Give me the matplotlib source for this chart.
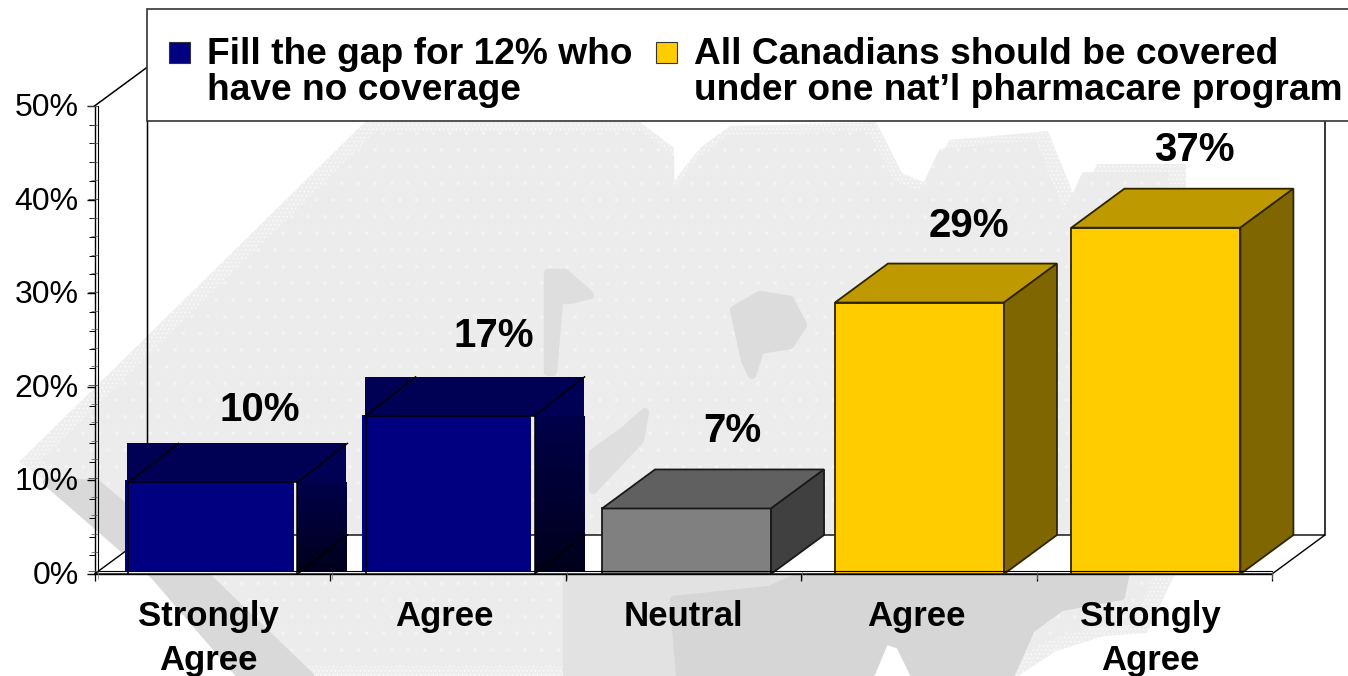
import matplotlib
matplotlib.use("Agg")
import matplotlib.pyplot as plt
import numpy as np
from matplotlib.patches import Polygon, Rectangle
from matplotlib.transforms import ScaledTranslation

plt.rcParams["font.family"] = ["Liberation Sans", "DejaVu Sans"]
plt.rcParams["hatch.linewidth"] = 0.4

categories = ["Strongly\nAgree", "Agree", "Neutral", "Agree", "Strongly\nAgree"]
values = [10, 17, 7, 29, 37]
series_a = "Fill the gap for 12% who\nhave no coverage"
series_b = "All Canadians should be covered\nunder one nat\u2019l pharmacare program"
yticks = [0, 10, 20, 30, 40, 50]
ytick_labels = ["0%", "10%", "20%", "30%", "40%", "50%"]

# front, top, side colours per bar
front = ["#000080", "#000080", "#808080", "#FFCC00", "#FFCC00"]
top = ["#000054", "#000054", "#606060", "#BF9900", "#BF9900"]
side = ["#00002c", "#00002c", "#404040", "#806600", "#806600"]
edge = ["black", "black", "#1a1a1a", "#2e2400", "#2e2400"]

W, H = 1348, 676
PX_X = 235.5  # pixels per category
PX_Y = 9.36  # pixels per percent
depth_x = 53 / PX_X
depth_y = 39 / PX_Y
navy_depth_x = 50 / PX_X
bar_w = 169 / PX_X
bar_shift = [-0.012, -0.005, 0.014, 0.003, 0.007]
label_shift = [-0.015, -0.015, 0.0, -0.01, -0.015]
outline_drop = [2, 1]
label_dx = [50, 47, 46, 49, 38]
label_dy = [70, 79, 77, 77, 78]

fig = plt.figure(figsize=(W / 100, H / 100), dpi=100, facecolor="white")


def px_axes(x0, x1, y_bottom, y_top, **kw):
    return fig.add_axes([x0 / W, 1 - y_bottom / H, (x1 - x0) / W, (y_bottom - y_top) / H], **kw)


# grey logo behind the chart, in pixel coordinates
bg = fig.add_axes([0, 0, 1, 1], zorder=0)
bg.set_xlim(0, W)
bg.set_ylim(H, 0)
bg.axis("off")
light = np.array([(19, 462), (365, 122), (640, 122), (674, 148), (674, 181), (700, 148), (730, 126), (876, 122),
                  (902, 173), (928, 184), (949, 140), (1048, 131), (1065, 173), (1078, 206), (1097, 164),
                  (1186, 164), (1186, 560), (1173, 578), (1147, 633), (1104, 636), (1056, 651), (1018, 676),
                  (915, 676), (900, 645), (885, 640), (870, 676), (241, 676), (155, 576), (47, 482)])
rim = dict(lw=0, joinstyle="round")
bg.add_patch(Polygon(light, fc="#eeeeee", ec="white", hatch="....", **rim))
# flat middle with sparser speckle, the dense dither only shows near the rim
core = (light - [680, 400]) * 0.965 + [680, 400]
bg.add_patch(Polygon(core, fc="#ececec", ec="#f3f3f3", hatch=".", **rim))
for pts, col in [
    ([(47, 482), (97, 484), (206, 576), (310, 676), (241, 676), (155, 576)], "#d9d9d9"),
    ([(567, 574), (800, 574), (770, 590), (674, 600), (680, 676), (567, 676)], "#e2e2e2"),
    ([(770, 590), (800, 576), (1125, 576), (1121, 596), (1061, 607), (1031, 629), (1010, 676),
      (915, 676), (900, 645), (885, 640), (870, 676), (680, 676), (674, 600)], "#d6d6d6"),
    ([(734, 310), (760, 295), (790, 300), (803, 325), (790, 345), (760, 350), (752, 375), (745, 360)], "#dcdcdc"),
    ([(548, 273), (565, 273), (590, 295), (570, 300), (559, 300), (553, 372), (548, 372)], "#dedede"),
    ([(645, 412), (640, 440), (593, 490), (593, 453), (625, 430)], "#dedede"),
]:
    bg.add_patch(Polygon(pts, fc=col, ec=col, lw=6, joinstyle="round"))

ax = px_axes(94.5, 1272, 574, 106, zorder=1)
ax.patch.set_alpha(0)
x = np.arange(5) + 0.5 + np.array(bar_shift)

# white floor and back walls
ax.add_patch(Polygon([(0, 0), (depth_x, depth_y), (5 + depth_x, depth_y), (5, 0)], fc="white", ec="black",
                     lw=1, clip_on=False, zorder=1))
wall = dict(color="black", lw=1.1, clip_on=False, zorder=1.5)
ax.plot([0, depth_x, depth_x], [50, 50 + depth_y, depth_y], **wall)
ax.plot([5 + depth_x, 5 + depth_x], [depth_y, 50 + depth_y], **wall)

ax.bar(x, values, bar_w, color=[c if c != "#000080" else "none" for c in front], ec="none", zorder=3)
for i, v in enumerate(values):
    left, right = x[i] - bar_w / 2, x[i] + bar_w / 2
    if front[i] == "#000080":
        # navy columns: face sits a little off its outline, shaded faces stay square
        nx, ny = 3.5 / PX_X, outline_drop[i] / PX_Y
        floor = 3.4 / PX_Y
        ax.add_patch(Rectangle((left, floor), bar_w, v - floor, fc=front[i], lw=0, zorder=3))
        l2, r2, v2 = left + nx, right + nx, v - ny
        ax.add_patch(Rectangle((l2 - 0.004, v2), bar_w + navy_depth_x, depth_y, fc=top[i], lw=0, zorder=3.2,
                               clip_on=False))
        shade = np.linspace(0, 1, 64)[:, None]
        ax.imshow(shade, extent=(r2, r2 + navy_depth_x, floor, v2), origin="upper", aspect="auto", zorder=3.3,
                  cmap=matplotlib.colors.LinearSegmentedColormap.from_list("s", ["#00004a", "#00001c"]),
                  clip_on=False)
        line = dict(color="black", lw=1.1, zorder=3.5, clip_on=False)
        ax.plot([l2, l2, r2], [0, v2, v2], **line)
        ax.plot([r2, r2], [0, v2], **line)
        ax.plot([l2, l2 + navy_depth_x], [v2, v2 + depth_y], **line)
        ax.plot([r2, r2 + navy_depth_x], [v2, v2 + depth_y], **line)
        ax.plot([r2, r2 + navy_depth_x], [0, depth_y], **line)
    else:
        ax.add_patch(Rectangle((left, 0), bar_w, v, fc=front[i], ec=edge[i], lw=1.3, zorder=3))
        ax.add_patch(Polygon([(left, v), (left + depth_x, v + depth_y), (right + depth_x, v + depth_y), (right, v)],
                             fc=top[i], ec=edge[i], lw=1.3, zorder=3.2, clip_on=False))
        ax.add_patch(Polygon([(right, 0), (right, v), (right + depth_x, v + depth_y), (right + depth_x, depth_y)],
                             fc=side[i], ec=edge[i], lw=1.3, zorder=3.2, clip_on=False))
    ax.annotate(f"{v}%", (x[i], v), xytext=(label_dx[i] * 0.72, label_dy[i] * 0.72), textcoords="offset points",
                ha="center", va="center", fontsize=29, fontweight="bold", zorder=6, annotation_clip=False)

ax.set_xlim(0, 5)
ax.set_ylim(0, 50)
for s in ("top", "right"):
    ax.spines[s].set_visible(False)
ax.spines["left"].set_linewidth(1)
ax.spines["bottom"].set_linewidth(1)
ax.set_yticks(yticks, ytick_labels)
ax.set_yticks(np.arange(0, 51, 2), minor=True)
ax.tick_params(axis="y", which="major", length=6, width=1, labelsize=23, pad=5.5)
ax.tick_params(axis="y", which="minor", length=4, width=0.7)
up = ScaledTranslation(0, 1.5 / 100, fig.dpi_scale_trans)
for t in ax.get_yticklabels():
    t.set_transform(t.get_transform() + up)
ax.set_xticks(np.arange(6), [""] * 6)
ax.tick_params(axis="x", which="major", length=5, width=0.9)
ax.set_xticks(np.arange(5) + 0.5 + np.array(label_shift), categories, minor=True)
ax.tick_params(axis="x", which="minor", length=0, pad=18.5, labelsize=25)
for t in ax.get_xticklabels(minor=True):
    t.set_fontweight("bold")
    t.set_linespacing(1.42)
    t.set_verticalalignment("top")

# second, fainter run of the axis lines just inside the first
inner = px_axes(97.5, 1272, 571, 106, zorder=2)
inner.patch.set_alpha(0)
inner.set_xlim(0, 5)
inner.set_ylim(0, 50)
for s in ("top", "right"):
    inner.spines[s].set_visible(False)
inner.spines["left"].set_linewidth(0.8)
inner.spines["bottom"].set_linewidth(0.8)
inner.set_yticks(yticks, [""] * 6)
inner.set_yticks(np.arange(0, 51, 2), minor=True)
inner.tick_params(axis="y", which="major", length=7, width=0.6, color="#444444")
inner.tick_params(axis="y", which="minor", length=5, width=0.5, color="#555555")
inner.set_xticks(np.arange(6), [""] * 6)
inner.tick_params(axis="x", length=6, width=0.5, color="#777777")

# legend box over the top of the walls
over = fig.add_axes([0, 0, 1, 1], zorder=3)
over.set_xlim(0, W)
over.set_ylim(H, 0)
over.axis("off")
over.add_patch(Rectangle((146.5, 9), 1300, 112, fc="white", ec="#333333", lw=1.2))
for sx, tx, col, txt in [(169, 207, front[0], series_a), (656, 694, front[3], series_b)]:
    over.add_patch(Rectangle((sx, 42), 21, 21, fc=col, ec="#333333", lw=0.8))
    over.text(tx, 36.5, txt, fontsize=26.7, fontweight="bold", va="top", ha="left", linespacing=1.04)

fig.savefig("out.png", dpi=100)
